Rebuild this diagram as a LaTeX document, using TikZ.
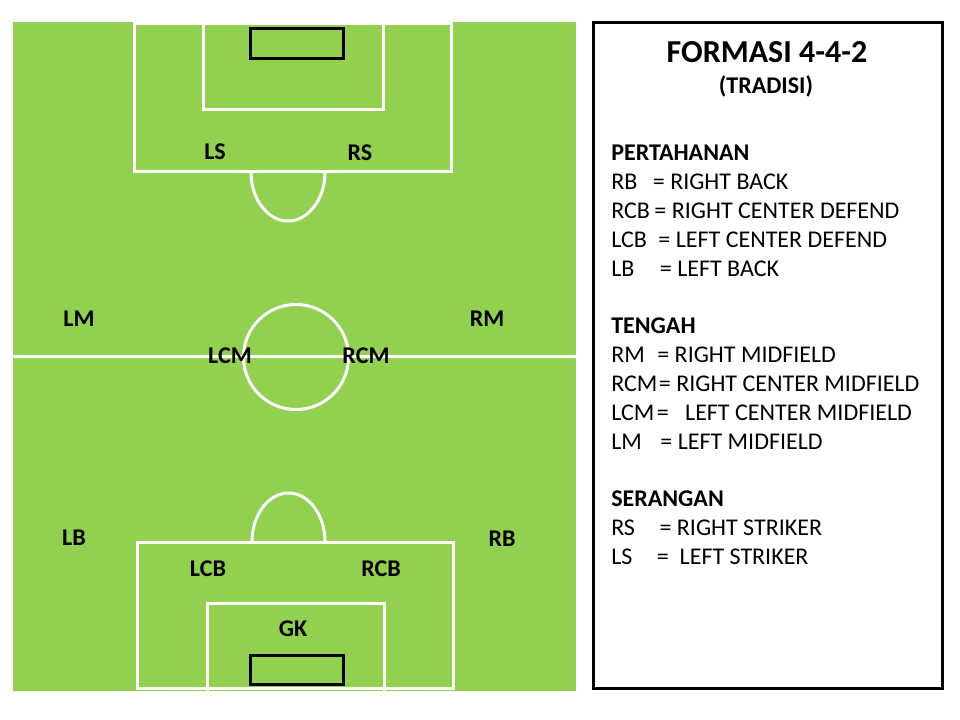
\documentclass[tikz,border=0pt]{standalone}
\usepackage{fontspec}
\setmainfont{Carlito}
\usetikzlibrary{positioning}
\definecolor{rumput}{HTML}{92D050}
\begin{document}
\begin{tikzpicture}[x=0.75pt, y=-0.75pt,
        garis/.style={draw=white, line width=2.25pt},
        gawang/.style={draw=black, line width=2.25pt},
        posisi/.style={font=\fontsize{18}{21}\selectfont\bfseries, inner sep=0pt},
        teks/.style={font=\fontsize{18}{21}\selectfont, inner sep=0pt, anchor=base west}]
        %latar, lapangan, garis tengah
        \path[use as bounding box, fill=white] (0, 0) rectangle (960, 720);
        \fill[rumput] (13, 22) rectangle (576, 691);
        \draw[garis] (13, 356) -- (576, 356);
        \draw[garis] (296, 357) circle (39.4pt);
        %kotak atas
        \draw[garis] (134, 24) rectangle (451, 172);
        \draw[garis] (203, 20) rectangle (383, 110);
        \draw[gawang] (250, 29) rectangle (343, 59);
        \draw[garis] (251, 172) arc[start angle=180, end angle=360, x radius=27.75pt, y radius=36.75pt];
        %kotak bawah
        \draw[garis] (137, 542) rectangle (453, 688);
        \draw[garis] (207, 603) rectangle (384, 694);
        \draw[gawang] (250, 655) rectangle (343, 684);
        \draw[garis] (252, 542) arc[start angle=180, end angle=0, x radius=27.4pt, y radius=36.75pt];
        %posisi pemain
        \foreach \pos/\px/\py in {LS/215/152, RS/360/153, LM/79/319, RM/487/319, LCM/230/356,
            RCM/366/356, LB/74/538, RB/502/539, LCB/208/569, RCB/381/569, GK/293/629}
            \node[posisi] (p\pos) at (\px, \py) {\pos};
        %keterangan
        \draw[line width=2.25pt] (593, 23) rectangle (942, 688);
        \node[font=\fontsize{24}{28}\selectfont\bfseries, anchor=base] (judul) at (767, 63) {FORMASI 4-4-2};
        \node[font=\fontsize{18}{21}\selectfont\bfseries, anchor=base] (subjudul) at (766, 94) {(TRADISI)};
        \foreach \n/\grup in {0/PERTAHANAN, 6/TENGAH, 12/SERANGAN}
            \node[teks, font=\fontsize{18}{21}\selectfont\bfseries] (g\n) at (611, 161 + 28.8*\n) {\grup};
        \foreach \n/\kode/\jarak/\arti in {1/RB/11.25pt/RIGHT BACK, 2/RCB/3pt/RIGHT CENTER DEFEND,
            3/LCB/8.25pt/LEFT CENTER DEFEND, 4/LB/18.75pt/LEFT BACK, 7/RM/9pt/RIGHT MIDFIELD,
            8/RCM/0.75pt/RIGHT CENTER MIDFIELD, 9/LCM/1.5pt/{\ \ LEFT CENTER MIDFIELD},
            10/LM/13.5pt/LEFT MIDFIELD, 13/RS/18pt/RIGHT STRIKER, 14/LS/18pt/{\ LEFT STRIKER}} {
            \node[teks] (k\n) at (611, 161 + 28.8*\n) {\kode};
            \node[teks, base right=\jarak of k\n] (a\n) {= \arti};
        }
    \end{tikzpicture}
\end{document}
